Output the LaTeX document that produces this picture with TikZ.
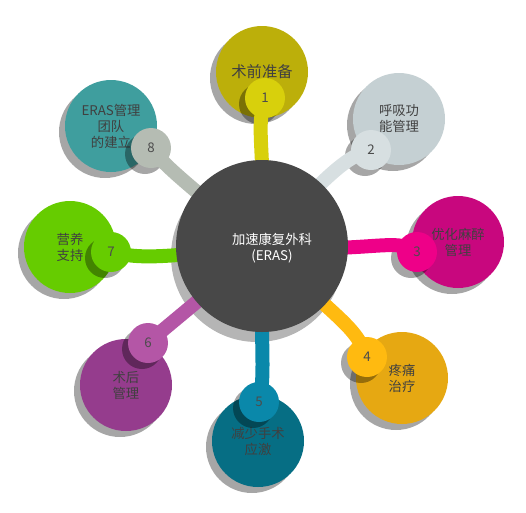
\documentclass[tikz,border=0pt]{standalone}
\usepackage{fontspec}
\setmainfont{Noto Sans CJK SC}
\usetikzlibrary{shadows}

\definecolor{kreisA}{HTML}{BCAF0A}\definecolor{punktA}{HTML}{D8D00C}
\definecolor{kreisB}{HTML}{C5D0D3}\definecolor{punktB}{HTML}{D7DFE1}
\definecolor{kreisC}{HTML}{C8077E}\definecolor{punktC}{HTML}{EE0088}
\definecolor{kreisD}{HTML}{E6A812}\definecolor{punktD}{HTML}{FFBA10}
\definecolor{kreisE}{HTML}{066E84}\definecolor{punktE}{HTML}{0A88AA}
\definecolor{kreisF}{HTML}{953C8D}\definecolor{punktF}{HTML}{B456A6}
\definecolor{kreisG}{HTML}{66CC00}\definecolor{punktG}{HTML}{66CC00}
\definecolor{kreisH}{HTML}{3F9E9E}\definecolor{punktH}{HTML}{B5BCB3}
\definecolor{mitte}{HTML}{484848}

\pgfdeclarelayer{back}
\pgfdeclarelayer{mid}
\pgfsetlayers{back,mid,main}

\begin{document}
\begin{tikzpicture}[x=0.75pt, y=-0.75pt,
    ball/.style={circle, inner sep=0pt, minimum size=69pt, align=center,
        text=black!75, font=\fontsize{10}{12}\selectfont,
        drop shadow={shadow xshift=-4.5pt, shadow yshift=-4.5pt, fill=black, opacity=0.35}},
    dot/.style={circle, inner sep=0pt, minimum size=30pt,
        text=black!70, font=\fontsize{10}{12}\selectfont},
    hub/.style={circle, inner sep=0pt, minimum size=129pt, fill=mitte},
    hubtext/.style={text=white, align=center, font=\fontsize{10}{12.5}\selectfont},
    schatten/.style={fill=black, opacity=0.35},
    link/.style={line width=10.5pt}]
    \useasboundingbox (0,0) rectangle (526,512);

    % grosse Kreise
    \begin{pgfonlayer}{back}
        \node[ball, fill=kreisA, font=\fontsize{11.5}{14}\selectfont] (b1) at (262,72) {术前准备};
        \node[ball, fill=kreisB] (b2) at (399,119) {呼吸功\\能管理};
        \node[ball, fill=kreisC] (b3) at (458,242) {优化麻醉\\管理};
        \node[ball, fill=kreisD] (b4) at (402,378) {疼痛\\治疗};
        \node[ball, fill=kreisE] (b5) at (258,441) {减少手术\\应激};
        \node[ball, fill=kreisF] (b6) at (126,385) {术后\\管理};
        \node[ball, fill=kreisG] (b7) at (70,247) {营养\\支持};
        \node[ball, fill=kreisH] (b8) at (111,126) {ERAS管理\\团队\\的建立};
    \end{pgfonlayer}

    % kleine Kreise
    \node[dot, fill=punktA] (s1) at (265,98) {1};
    \node[dot, fill=punktB] (s2) at (371,150) {2};
    \node[dot, fill=punktC] (s3) at (417,252) {3};
    \node[dot, fill=punktD] (s4) at (367,357) {4};
    \node[dot, fill=punktE] (s5) at (259,402) {5};
    \node[dot, fill=punktF] (s6) at (148,343) {6};
    \node[dot, fill=punktG] (s7) at (111,252) {7};
    \node[dot, fill=punktH] (s8) at (151,148) {8};

    % Mitte
    \node[hub, label={[hubtext, xshift=7.5pt, yshift=-1.5pt]center:加速康复外科\\(ERAS)}] (c) at (262,246) {};

    % Schatten
    \begin{pgfonlayer}{back}
        \foreach \n in {1,...,8}
            \fill[schatten] ([shift={(-6,6)}]s\n.center) circle[radius=20];
        \fill[schatten, opacity=0.29] ([shift={(-5,10)}]c.center) circle[radius=86];
    \end{pgfonlayer}

    % Verbindungen
    \begin{pgfonlayer}{mid}
        \draw[link, punktA] (s1.center) .. controls (255,130) and (266,150) .. (c.center);
        \draw[link, punktB] (s2.center) .. controls (350,155) and (330,170) .. (c.center);
        \draw[link, punktC] (s3.center) .. controls (395,236) and (370,254) .. (c.center);
        \draw[link, punktD] (s4.center) .. controls (355,325) and (338,320) .. (c.center);
        \draw[link, punktE] (s5.center) .. controls (266,375) and (260,345) .. (c.center);
        \draw[link, punktF] (s6.center) .. controls (168,325) and (186,312) .. (c.center);
        \draw[link, punktG] (s7.center) .. controls (140,259) and (162,258) .. (c.center);
        \draw[link, punktH] (s8.center) .. controls (165,166) and (182,180) .. (c.center);
    \end{pgfonlayer}
\end{tikzpicture}
\end{document}
